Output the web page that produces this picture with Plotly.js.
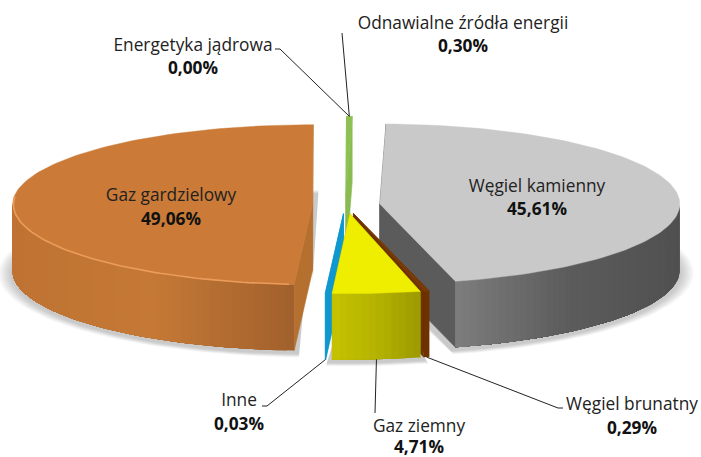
<!DOCTYPE html>
<html><head><meta charset="utf-8">
<script src="https://cdn.plot.ly/plotly-3.0.1.min.js"></script>
<style>html,body{margin:0;padding:0;background:#fff}#c{width:701px;height:457px}</style>
</head><body><div id="c"></div>
<script>
// Data, clockwise from the first slice
const names = ["Węgiel kamienny","Węgiel brunatny","Gaz ziemny","Inne","Gaz gardzielowy","Energetyka jądrowa","Odnawialne źródła energii"];
const values = [45.61,0.29,4.71,0.03,49.06,0.00,0.30];
// Styling per slice
const topColors = ["#c9c9c9","#7a3a08","#f0ee00","#0f97cf","#cb7b37","#a5a5a5","#8cc152"];
const sideColors = ["#5b5b5b","#6e3200","#b2b000","#0f97cf","#b5702f","#a5a5a5","#8abb52"];
const wallLeft = ["#7d7d7d","#6e3200","#c4c200","#0f97cf","#bf7333","#a5a5a5","#8abb52"];
const wallMid = ["#5c5c5c","#6e3200","#b5b300","#0f97cf","#c57936","#a5a5a5","#8abb52"];
const wallRight = ["#505050","#6e3200","#9c9a00","#0f97cf","#a1602c","#a5a5a5","#8abb52"];
const drawOrder = [6,4,0,3,1,2];
const pulls = [34.5,32.5,32.5,32.5,33,32.5,32.5];
const nudgeX = [0,0,1.5,0,0,0,0];
// Label placement in picture units
const labelX = [537,632,419,239,171,193,463];
const labelNameY = [188,406,428,402,197,47,25];
const labelPctY = [211,430,449,426,221,70,48];
// Leader elbows
const leaderStart = [null,[563,408],[375,413],[262,406],null,[275,49],[342,33]];
const leaderElbow = [null,[558,408],null,[267,406],null,[280,49],null];

// Projection of the pie
const cx=345.5, cy=205, rx=300, ry=80, depth=66, startAngle=1.2;
const FONT='"Open Sans", sans-serif';
const traces=[];
const rgb=h=>[1,3,5].map(i=>parseInt(h.substr(i,2),16));
const mix=(a,b,t)=>{const A=rgb(a),B=rgb(b);return 'rgb('+A.map((v,i)=>Math.round(v+(B[i]-v)*t)).join(',')+')';};
const rad=d=>d*Math.PI/180;
const total=values.reduce((a,b)=>a+b,0);
let acc=startAngle;
const slices=values.map((v,k)=>{const a0=acc;acc+=v/total*360;const a1=acc,m=(a0+a1)/2;
  return {a0,a1,ox:cx+nudgeX[k]+pulls[k]*Math.sin(rad(m)),oy:cy-pulls[k]*Math.cos(rad(m))*ry/rx};});
const pt=(s,a,dz=0,g=0)=>[s.ox+(rx+g)*Math.sin(rad(a)),s.oy-(ry+g*ry/rx)*Math.cos(rad(a))+dz];
function poly(pts,color,lw){traces.push({type:'scatter',mode:'lines',x:pts.map(p=>p[0]),y:pts.map(p=>p[1]),
  fill:'toself',fillcolor:color,line:{color:color,width:lw===undefined?0.6:lw},hoverinfo:'skip',showlegend:false});}
function arc(s,a0,a1,dz,g,n){const o=[];for(let i=0;i<=n;i++)o.push(pt(s,a0+(a1-a0)*i/n,dz,g));return o;}

// soft shadows under the large slices and the small block
[0,4,2].forEach(k=>{const s=slices[k];
  for(let g=14;g>0;g-=2){
    const out=arc(s,s.a0-1,s.a1+1,depth+3,g,80);
    const side=[s.ox,s.oy+depth+3+g];
    const topBack=[s.ox,s.oy+depth*0.2-g];
    poly([topBack,...out,side,topBack],'rgba(0,0,0,0.03)',0);
  }
});

drawOrder.forEach(k=>{
  const s=slices[k], c=[s.ox,s.oy];
  // radial faces
  [s.a0,s.a1].forEach(a=>{const o=pt(s,a);
    poly([c,o,[o[0],o[1]+depth],[c[0],c[1]+depth],c],sideColors[k]);});
  // curved outer wall: overlapping strips painted from one end, so no seams show
  const f0=Math.max(s.a0,90), f1=Math.min(s.a1,270);
  if(f1>f0){const n=Math.max(1,Math.ceil((f1-f0)/1.5));
    for(let i=0;i<n;i++){
      const b0=f0+(f1-f0)*i/n;
      const b1=f0+(f1-f0)*(i+1)/n;
      const x=(pt(s,(b0+b1)/2)[0]-pt(s,f1)[0])/((pt(s,f0)[0]-pt(s,f1)[0])||1); // 0 left, 1 right
      const col=x<0.5?mix(wallLeft[k],wallMid[k],x*2):mix(wallMid[k],wallRight[k],(x-0.5)*2);
      const upper=arc(s,b0,f1,0,0,Math.max(2,n-i)), lower=arc(s,f1,b0,depth,0,Math.max(2,n-i));
      poly([...upper,...lower,upper[0]],col,0);
    }
  }
  // top face
  const rim=arc(s,s.a0,s.a1,0,0,Math.max(2,Math.ceil((s.a1-s.a0)/1.5)));
  poly([c,...rim,c],topColors[k],0.4);
});

// rim highlight on the orange slice
{const s=slices[4];const r=arc(s,s.a0+1,276,0,-1,70);
 traces.push({type:'scatter',mode:'lines',x:r.map(p=>p[0]),y:r.map(p=>p[1]),line:{color:'#eb9c5a',width:1.6},hoverinfo:'skip',showlegend:false});}

// leader lines: from label to the slice it names
function anchor(k){const s=slices[k],m=(s.a0+s.a1)/2;
  return (k>=5)?pt(s,m):pt(s,m,depth);}
names.forEach((n,k)=>{ if(!leaderStart[k])return;
  let e=anchor(k);
  if(k===5) e=anchor(6);
  const pts=[leaderStart[k]]; if(leaderElbow[k])pts.push(leaderElbow[k]); pts.push(e);
  traces.push({type:'scatter',mode:'lines',x:pts.map(p=>p[0]),y:pts.map(p=>p[1]),line:{color:'#222',width:1},hoverinfo:'skip',showlegend:false});
});

const pct=values.map(v=>v.toFixed(2).replace('.',',')+'%');
traces.push({type:'scatter',mode:'text',x:labelX,y:labelNameY,text:names,textposition:'middle center',
  textfont:{family:FONT,size:17.3,color:'#222'},hoverinfo:'skip',showlegend:false,cliponaxis:false});
traces.push({type:'scatter',mode:'text',x:labelX,y:labelPctY,text:pct,textposition:'middle center',
  textfont:{family:FONT,size:17.3,color:'#111',weight:700},hoverinfo:'skip',showlegend:false,cliponaxis:false});

Plotly.newPlot('c',traces,{width:701,height:457,margin:{l:0,r:0,t:0,b:0},paper_bgcolor:'#fff',plot_bgcolor:'#fff',
  showlegend:false,xaxis:{range:[0,701],visible:false,fixedrange:true},yaxis:{range:[457,0],visible:false,fixedrange:true}},{displayModeBar:false,staticPlot:true});
</script></body></html>
